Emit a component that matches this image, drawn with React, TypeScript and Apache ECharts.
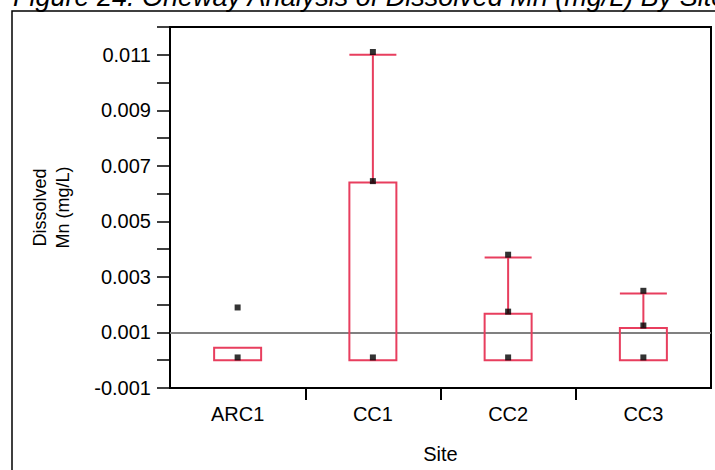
import React, { useEffect, useRef } from "react";
import * as echarts from "echarts";

const sites = ["ARC1", "CC1", "CC2", "CC3"];
// [min, Q1, median, Q3, max]
const boxStats = [
  [0, 0, 0, 0.00045, 0.00045],
  [0, 0, 0, 0.0064, 0.011],
  [0, 0, 0, 0.00167, 0.0037],
  [0, 0, 0, 0.00116, 0.0024],
];
const points: [number, number][] = [
  [0, 0.0001],
  [0, 0.0019],
  [1, 0.0001],
  [1, 0.00645],
  [1, 0.0111],
  [2, 0.0001],
  [2, 0.00175],
  [2, 0.0038],
  [3, 0.0001],
  [3, 0.00125],
  [3, 0.0025],
];
const referenceLine = 0.001;
const yLabelValues = [-0.001, 0.001, 0.003, 0.005, 0.007, 0.009, 0.011];
const xTickValues = [1, 2, 3];
const titleText = "Figure 24. Oneway Analysis of Dissolved Mn (mg/L) By Site";

const FONT = "Liberation Sans, Arial, sans-serif";
const BOX = "#E83E5E";

export default function App() {
  const ref = useRef<HTMLDivElement>(null);
  useEffect(() => {
    if (!ref.current) return;
    const chart = echarts.init(ref.current, null, { renderer: "svg" });
    chart.setOption({
      animation: false,
      backgroundColor: "#fff",
      grid: {
        left: 170,
        right: 4,
        top: 27,
        bottom: 82,
        show: true,
        borderColor: "#000",
        borderWidth: 2,
        backgroundColor: "transparent",
      },
      graphic: [
        {
          type: "rect",
          shape: { x: 12, y: 11, width: 760, height: 520 },
          style: { fill: "none", stroke: "#000", lineWidth: 1.5 },
          silent: true,
        },
        {
          type: "text",
          x: 13,
          y: -17,
          style: {
            text: titleText,
            font: `italic 27px ${FONT}`,
            fill: "#000",
            verticalAlign: "top",
          },
        },
      ],
      xAxis: [
        {
          type: "category",
          data: sites,
          position: "bottom",
          axisLine: { onZero: false, lineStyle: { color: "#000", width: 2 } },
          axisTick: { show: false },
          axisLabel: {
            color: "#000",
            fontFamily: FONT,
            fontSize: 20,
            margin: 16,
          },
          name: "Site",
          nameLocation: "middle",
          nameGap: 56,
          nameTextStyle: { color: "#000", fontFamily: FONT, fontSize: 20 },
          splitLine: { show: false },
        },
        {
          type: "value",
          min: 0,
          max: 4,
          interval: 1,
          position: "bottom",
          axisLine: { show: false, onZero: false },
          axisTick: {
            show: true,
            customValues: xTickValues,
            length: 12,
            lineStyle: { color: "#000", width: 2 },
          },
          axisLabel: { show: false },
          splitLine: { show: false },
        },
      ],
      yAxis: {
        type: "value",
        min: -0.001,
        max: 0.012,
        interval: 0.001,
        axisLine: { show: true, onZero: false, lineStyle: { color: "#000", width: 2 } },
        axisTick: { show: true, length: 13, lineStyle: { color: "#000", width: 1.5 } },
        axisLabel: {
          customValues: yLabelValues,
          formatter: (v: number) => v.toFixed(3),
          color: "#000",
          fontFamily: FONT,
          fontSize: 20,
          margin: 19,
        },
        splitLine: { show: false },
        name: "Dissolved\nMn (mg/L)",
        nameLocation: "middle",
        nameRotate: 90,
        nameGap: 96,
        nameTextStyle: {
          color: "#000",
          fontFamily: FONT,
          fontSize: 18,
          lineHeight: 23,
        },
      },
      series: [
        {
          type: "boxplot",
          xAxisIndex: 0,
          data: boxStats,
          boxWidth: [47, 47],
          itemStyle: { color: "transparent", borderColor: BOX, borderWidth: 2 },
          emphasis: { disabled: true },
          z: 3,
        },
        {
          type: "scatter",
          xAxisIndex: 0,
          data: points,
          symbol: "rect",
          symbolSize: 6,
          itemStyle: { color: "#000" },
          z: 5,
          markLine: {
            silent: true,
            symbol: "none",
            precision: 6,
            label: { show: false },
            lineStyle: { color: "#808080", width: 2, type: "solid" },
            data: [{ yAxis: referenceLine }],
            z: 1,
          },
        },
      ],
    });
    return () => chart.dispose();
  }, []);
  return (
    <div
      ref={ref}
      style={{ position: "fixed", left: 0, top: 0, width: 715, height: 470 }}
    />
  );
}
